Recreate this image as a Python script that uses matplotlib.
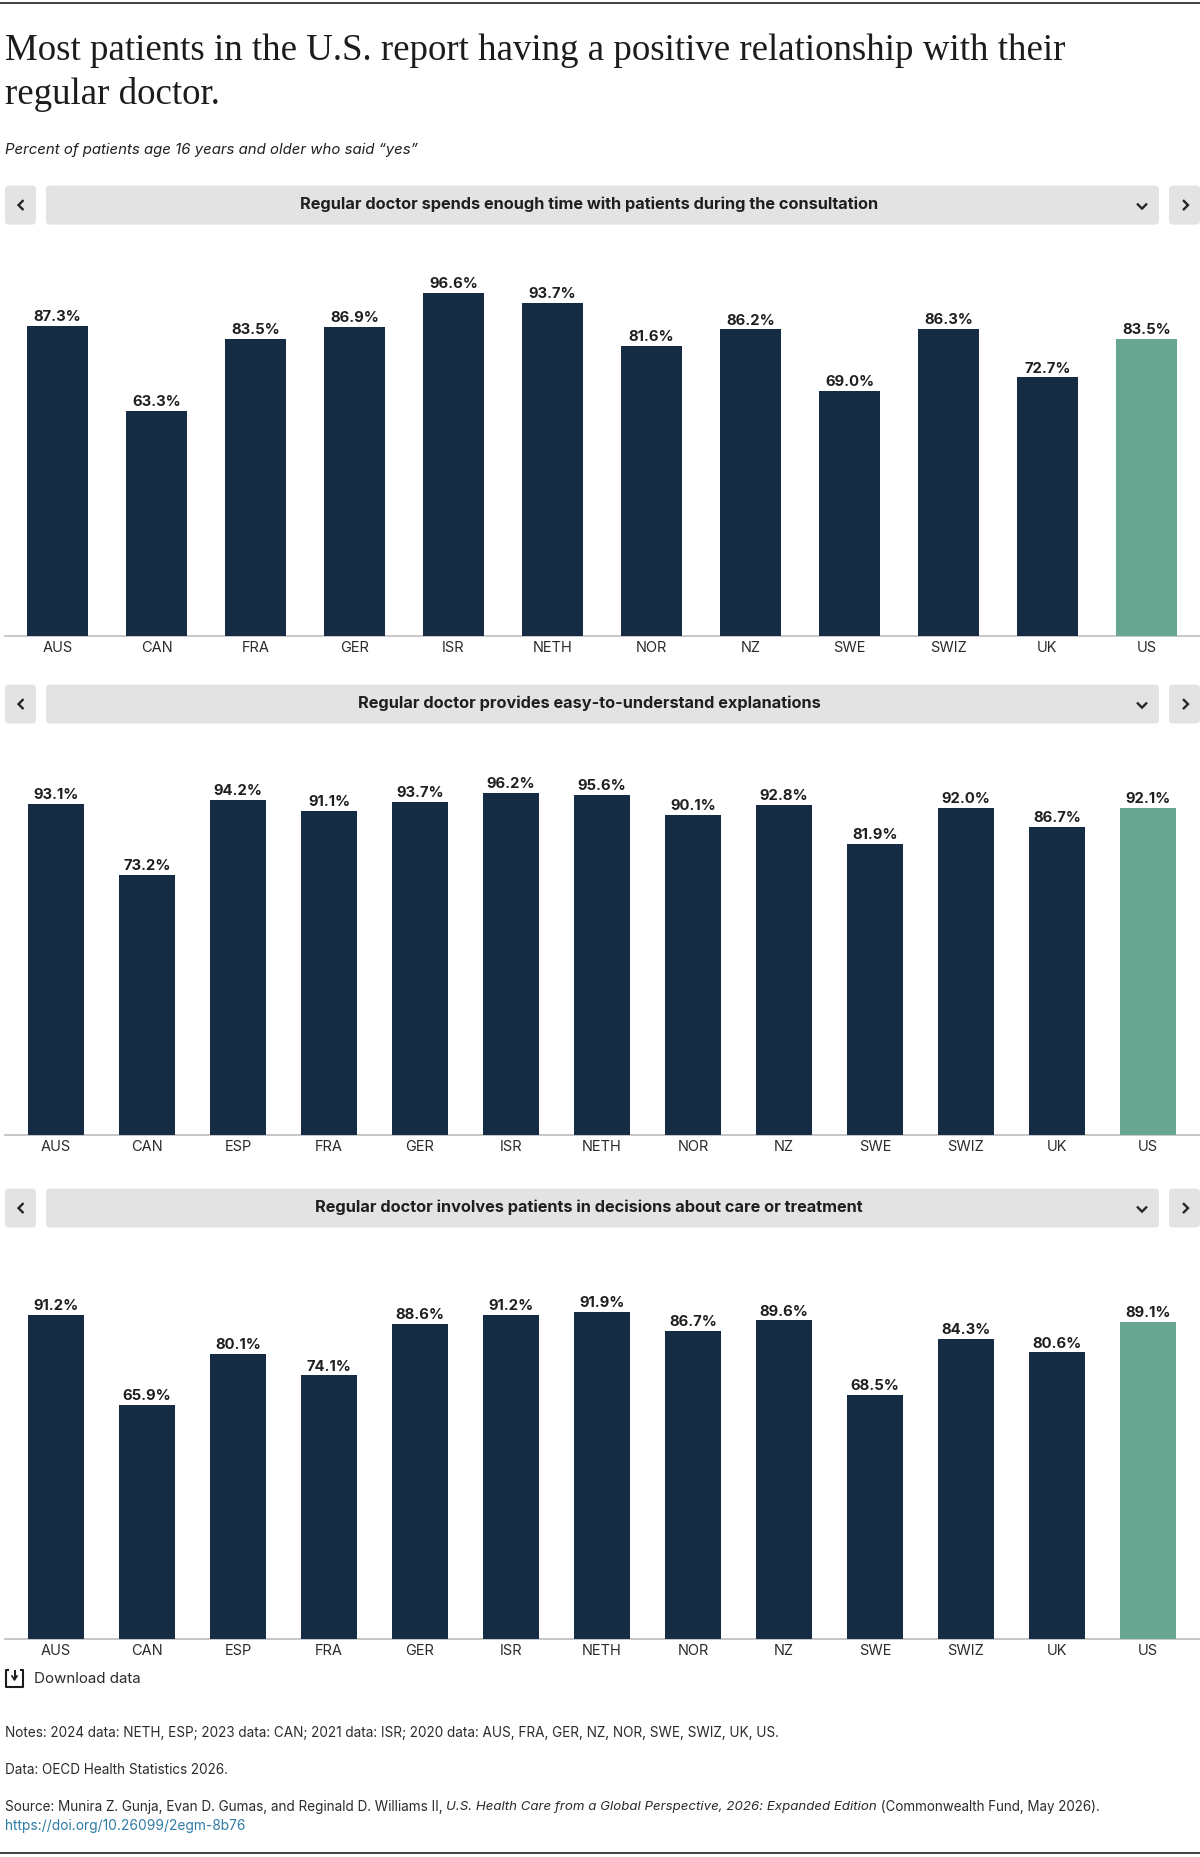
import matplotlib
matplotlib.use("Agg")
import matplotlib.pyplot as plt
from matplotlib.patches import FancyBboxPatch

plt.rcParams["font.family"] = ["Inter", "DejaVu Sans"]

W, H = 1200, 1858
NAVY = "#162c44"
GREEN = "#67a690"
BOX = "#e3e3e3"
INK = "#1f1f1f"

# Survey results, percent answering yes
countries_a = ["AUS", "CAN", "FRA", "GER", "ISR", "NETH", "NOR", "NZ", "SWE", "SWIZ", "UK", "US"]
enough_time = [87.3, 63.3, 83.5, 86.9, 96.6, 93.7, 81.6, 86.2, 69.0, 86.3, 72.7, 83.5]

countries_b = ["AUS", "CAN", "ESP", "FRA", "GER", "ISR", "NETH", "NOR", "NZ", "SWE", "SWIZ", "UK", "US"]
explanations = [93.1, 73.2, 94.2, 91.1, 93.7, 96.2, 95.6, 90.1, 92.8, 81.9, 92.0, 86.7, 92.1]
decisions = [91.2, 65.9, 80.1, 74.1, 88.6, 91.2, 91.9, 86.7, 89.6, 68.5, 84.3, 80.6, 89.1]

panel_titles = [
    "Regular doctor spends enough time with patients during the consultation",
    "Regular doctor provides easy-to-understand explanations",
    "Regular doctor involves patients in decisions about care or treatment",
]

fig = plt.figure(figsize=(W / 100, H / 100), dpi=100, facecolor="white")

# full-figure layer in pixel units for rules, dropdown bars and text
bg = fig.add_axes([0, 0, 1, 1])
bg.set_xlim(0, W)
bg.set_ylim(H, 0)
bg.axis("off")


def rounded(x0, x1, y0, y1):
    bg.add_patch(FancyBboxPatch((x0 + 3, y0 + 3), x1 - x0 - 6, y1 - y0 - 6,
                                boxstyle="round,pad=3,rounding_size=4",
                                fc=BOX, ec="none"))


def selector(y0, title):
    y1 = y0 + 39
    mid = (y0 + y1) / 2
    rounded(5, 36, y0, y1)
    rounded(46, 1159, y0, y1)
    rounded(1169, 1200, y0, y1)
    bg.text(589, mid - 2, title, ha="center", va="center", fontsize=11.75,
            fontweight="bold", color=INK)
    chev = dict(color="#262626", lw=1.7, solid_capstyle="butt", solid_joinstyle="miter")
    bg.plot([23.5, 18.5, 23.5], [mid - 5, mid, mid + 5], **chev)
    bg.plot([1183, 1188, 1183], [mid - 5, mid, mid + 5], **chev)
    bg.plot([1137, 1142, 1147], [mid - 1.5, mid + 3.5, mid - 1.5], **chev)


def bar_panel(baseline, left, right, labels, values):
    # 3.55 px per percentage point, same scale in every panel
    ax = fig.add_axes([left / W, 1 - (baseline + 0.5) / H, (right - left) / W, 355 / H])
    ax.patch.set_alpha(0)
    colors = [GREEN if c == "US" else NAVY for c in labels]
    ax.bar(labels, values, width=0.615, color=colors)
    ax.set_xlim(-0.5, len(labels) - 0.5)
    ax.set_ylim(0, 100)
    ax.set_yticks([])
    ax.tick_params(axis="x", length=0, pad=3.2, labelsize=10.5, labelcolor="#2b2b2b")
    for s in ax.spines.values():
        s.set_visible(False)
    for i, v in enumerate(values):
        ax.annotate(f"{v:.1f}%", (i, v), xytext=(0, 4.2), textcoords="offset points",
                    ha="center", va="baseline", fontsize=10.7, fontweight="bold",
                    color=INK, clip_on=False)
    bg.plot([5, 1200], [baseline + 0.5, baseline + 0.5], color="#b8b8b8", lw=1.1)


# top and bottom rules
bg.plot([0, W], [3.5, 3.5], color="#222222", lw=1.2)
bg.plot([0, W], [1854, 1854], color="#222222", lw=1.2)

# heading
for y, line in zip([60, 104], ["Most patients in the U.S. report having a positive relationship with their",
                               "regular doctor."]):
    bg.text(5, y, line, family="Liberation Serif", fontsize=26.6, color="#1c1c1c", va="baseline")
bg.text(5, 150, "Percent of patients age 16 years and older who said \u201cyes\u201d", fontsize=10.75,
        style="italic", color=INK, va="center")

selector(186.6, panel_titles[0])
selector(685.6, panel_titles[1])
selector(1189.6, panel_titles[2])

bar_panel(636, 8, 1196, countries_a, enough_time)
bar_panel(1135, 10.5, 1193.5, countries_b, explanations)
bar_panel(1639, 10.5, 1193.5, countries_b, decisions)

# download link with its tray icon
icon = dict(color="#1a1a1a", lw=1.5, solid_capstyle="butt", solid_joinstyle="round")
bg.plot([9, 6, 6, 23, 23, 20], [1671, 1671, 1688, 1688, 1671, 1671], **icon)
bg.plot([14.5, 14.5], [1672, 1679], color="#1a1a1a", lw=1.4)
bg.plot([12, 14.5, 17], [1677, 1681, 1677], color="#1a1a1a", lw=1.2)
bg.text(34.5, 1679, "Download data", fontsize=10.9, color="#2b2b2b", va="center")

# footnotes
note = dict(color="#2b2b2b", va="center")
bg.text(5, 1733, "Notes: 2024 data: NETH, ESP; 2023 data: CAN; 2021 data: ISR; 2020 data: AUS, FRA, GER, NZ, NOR, "
        "SWE, SWIZ, UK, US.", fontsize=9.75, **note)
bg.text(5, 1770, "Data: OECD Health Statistics 2026.", fontsize=9.75, **note)

# the source line switches to italics for the report title
renderer = fig.canvas.get_renderer()
x = 5
for part, style, size in [("Source: Munira Z. Gunja, Evan D. Gumas, and Reginald D. Williams II, ", "normal", 9.75),
                          ("U.S. Health Care from a Global Perspective, 2026: Expanded Edition", "italic", 9.55),
                          (" (Commonwealth Fund, May 2026).", "normal", 9.65)]:
    t = bg.text(x, 1807, part.replace(" ", "\u00a0"), style=style, fontsize=size, **note)
    x = t.get_window_extent(renderer).x1
bg.text(5, 1826, "https://doi.org/10.26099/2egm-8b76", fontsize=9.9, color="#2f7ba6", va="center")

fig.savefig("out.png", dpi=100)
